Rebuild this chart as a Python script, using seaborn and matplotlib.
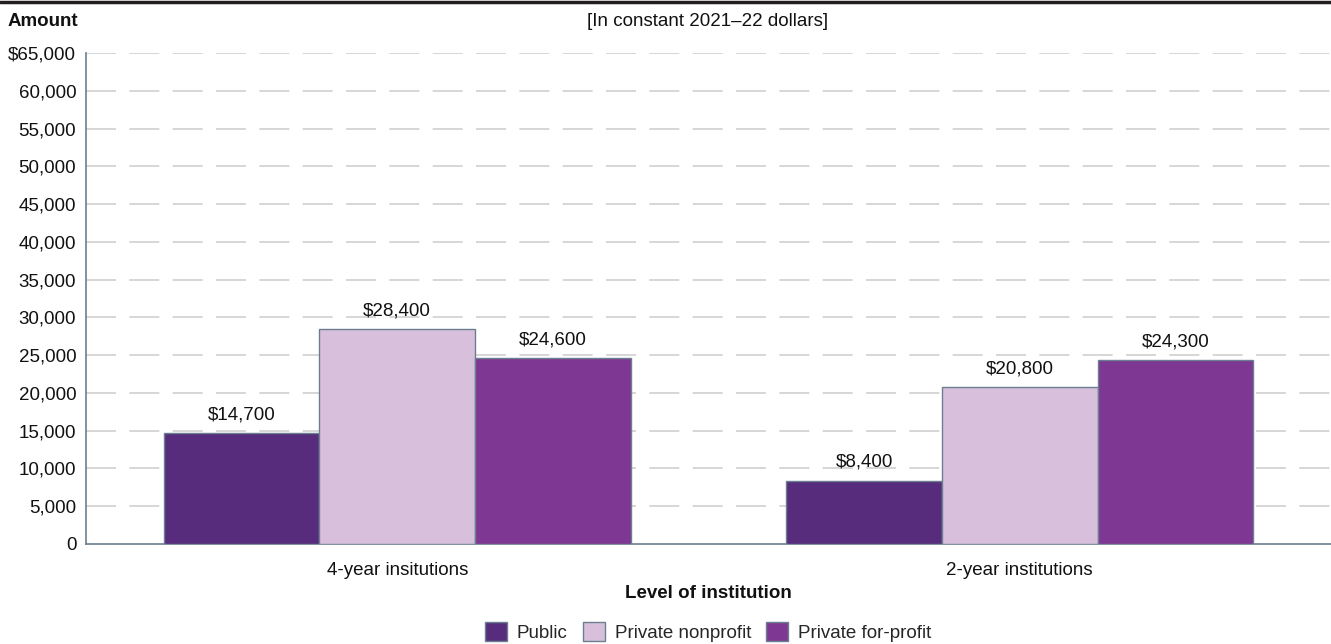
import matplotlib
matplotlib.use("Agg")
import matplotlib.pyplot as plt
import seaborn as sns
import pandas as pd
from matplotlib.patches import Patch

levels = ["4-year insitutions", "2-year institutions"]
controls = ["Public", "Private nonprofit", "Private for-profit"]
public_vals = [14700, 8400]
nonprofit_vals = [28400, 20800]
forprofit_vals = [24600, 24300]
yticks = list(range(0, 65001, 5000))

colors = ["#582C7C", "#D8BFDB", "#7F3794"]
edge = "#6B7F90"
FS = 13.5

rows = []
for ctl, vals in zip(controls, [public_vals, nonprofit_vals, forprofit_vals]):
    for lvl, v in zip(levels, vals):
        rows.append({"Level": lvl, "Control": ctl, "Amount": v})
df = pd.DataFrame(rows)

sns.set_theme(style="white")
plt.rcParams["font.family"] = ["Liberation Sans", "DejaVu Sans"]

fig = plt.figure(figsize=(13.31, 6.44), dpi=100)
ax = fig.add_axes([86 / 1331, 1 - 544 / 644, (1331 - 86) / 1331, (544 - 53) / 644])

sns.barplot(data=df, x="Level", y="Amount", hue="Control", order=levels,
            hue_order=controls, palette=colors, width=0.75, gap=0,
            edgecolor=edge, linewidth=1.0, saturation=1, ax=ax, legend=False,
            zorder=3)

ax.set_xlim(-0.5, 1.5)
ax.set_ylim(0, 65000)
ax.set_yticks(yticks)
ax.set_yticklabels(["$65,000" if t == 65000 else f"{t:,}" for t in yticks],
                   fontsize=FS, color="#111111")
ax.tick_params(axis="x", labelsize=FS, colors="#111111", length=0, pad=13)
ax.tick_params(axis="y", length=0, pad=7)
ax.set_xlabel("")
ax.set_ylabel("")

for t in yticks[1:]:
    ax.axhline(t, color="#CFCFCF", lw=1.2, dashes=(18, 8), zorder=1)

for s in ["top", "right"]:
    ax.spines[s].set_visible(False)
for s in ["left", "bottom"]:
    ax.spines[s].set_color(edge)
    ax.spines[s].set_linewidth(1.2)

for cont in ax.containers:
    for bar in cont:
        h = bar.get_height()
        ax.text(bar.get_x() + bar.get_width() / 2, h + 1300, f"${h:,.0f}",
                ha="center", va="bottom", fontsize=FS, color="#111111")

# header rule and titles
fig.add_artist(plt.Line2D([0, 1], [1 - 1.5 / 644, 1 - 1.5 / 644],
                          color="#231F20", lw=2.5, transform=fig.transFigure))
fig.text(8 / 1331, 1 - 22 / 644, "Amount", fontsize=FS, fontweight="bold",
         ha="left", va="center", color="#111111")
fig.text(708 / 1331, 1 - 22 / 644, "[In constant 2021\u201322 dollars]",
         fontsize=FS, ha="center", va="center", color="#111111")
fig.text(708 / 1331, 1 - 593 / 644, "Level of institution", fontsize=FS,
         fontweight="bold", ha="center", va="center", color="#111111")

handles = [Patch(facecolor=c, edgecolor=edge, linewidth=1.0, label=l)
           for c, l in zip(colors, controls)]
fig.legend(handles=handles, loc="center", bbox_to_anchor=(708 / 1331, 1 - 632 / 644),
           ncol=3, frameon=False, fontsize=FS, handlelength=1.2, handleheight=1.2,
           handletextpad=0.5, columnspacing=0.8)

fig.savefig("out.png", dpi=100)
